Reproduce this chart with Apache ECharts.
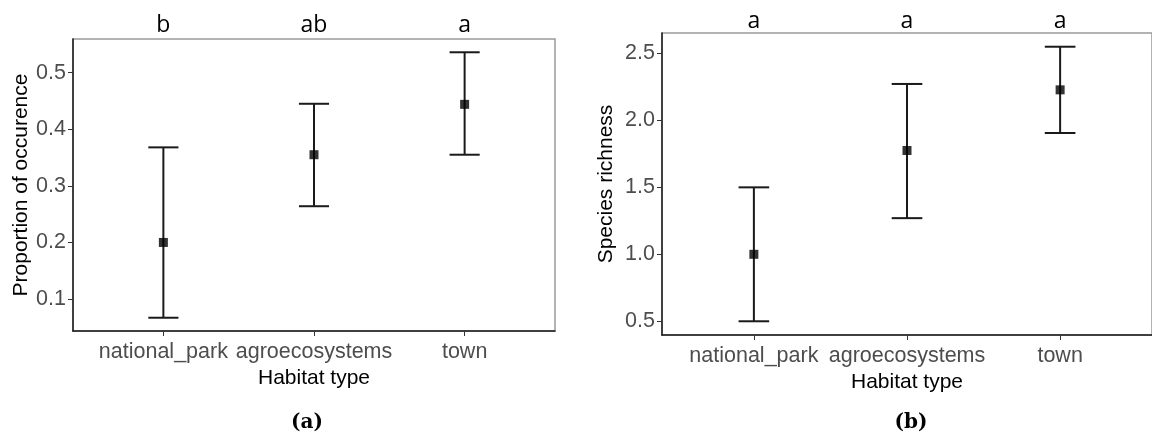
<!DOCTYPE html>
<html>
<head>
<meta charset="utf-8">
<script src="https://cdn.jsdelivr.net/npm/echarts@6/dist/echarts.min.js"></script>
<style>
html,body{margin:0;padding:0;background:#fff;}
#chart{width:1152px;height:445px;}
</style>
</head>
<body>
<div id="chart"></div>
<script>
// ---- data ----
const categories = ['national_park', 'agroecosystems', 'town'];
const occMean = [0.200, 0.355, 0.444];
const occLow  = [0.067, 0.264, 0.355];
const occHigh = [0.368, 0.445, 0.536];
const occLetters = ['b', 'ab', 'a'];
const richMean = [1.00, 1.775, 2.228];
const richLow  = [0.50, 1.270, 1.906];
const richHigh = [1.50, 2.272, 2.550];
const richLetters = ['a', 'a', 'a'];
const occTicks = [0.1, 0.2, 0.3, 0.4, 0.5];
const richTicks = [0.5, 1.0, 1.5, 2.0, 2.5];
const catPositions = [1, 2, 3];

// ---- helpers ----
function expand(lo, hi) { const r = hi - lo; return [lo - 0.05 * r, hi + 0.05 * r]; }
const occRange = expand(Math.min(...occLow), Math.max(...occHigh));
const richRange = expand(Math.min(...richLow), Math.max(...richHigh));
const xRange = [1 - 0.6, categories.length + 0.6];

const tickFont = 'Liberation Sans, Arial, sans-serif';
const tickColor = '#4d4d4d';

function bottomX(gridIndex) {
  return {
    type: 'value', gridIndex, position: 'bottom', min: xRange[0], max: xRange[1],
    name: 'Habitat type', nameLocation: 'middle', nameGap: 34,
    nameTextStyle: { fontFamily: tickFont, fontSize: 21, color: '#000' },
    axisLine: { show: true, onZero: false, lineStyle: { color: '#1a1a1a', width: 1.5 } },
    axisTick: { show: true, length: 5, customValues: catPositions, lineStyle: { color: '#333', width: 1 } },
    axisLabel: { customValues: catPositions, margin: 10, fontFamily: tickFont, fontSize: 21.5, color: tickColor,
      formatter: v => categories[Math.round(v) - 1] },
    splitLine: { show: false }
  };
}
function topX(gridIndex, letters, margin) {
  return {
    type: 'value', gridIndex, position: 'top', min: xRange[0], max: xRange[1],
    axisLine: { show: false }, axisTick: { show: false }, splitLine: { show: false },
    axisLabel: { customValues: catPositions, margin, fontFamily: 'Open Sans, sans-serif', fontSize: 23, color: '#000',
      formatter: v => letters[Math.round(v) - 1] }
  };
}
function leftY(gridIndex, range, ticks, name, gap) {
  return {
    type: 'value', gridIndex, min: range[0], max: range[1],
    name, nameLocation: 'middle', nameGap: gap, nameRotate: 90,
    nameTextStyle: { fontFamily: tickFont, fontSize: 21, color: '#000' },
    axisLine: { show: true, onZero: false, lineStyle: { color: '#1a1a1a', width: 1.5 } },
    axisTick: { show: true, length: 5, customValues: ticks, lineStyle: { color: '#333', width: 1 } },
    axisLabel: { customValues: ticks, margin: 7, fontFamily: tickFont, fontSize: 21.5, color: tickColor,
      formatter: v => v.toFixed(1) },
    splitLine: { show: false }
  };
}
function errorSeries(xIdx, yIdx, low, high) {
  return {
    type: 'custom', xAxisIndex: xIdx, yAxisIndex: yIdx, z: 2,
    data: catPositions.map((p, i) => [p, low[i], high[i]]),
    renderItem: (params, api) => {
      const x = api.value(0), lo = api.value(1), hi = api.value(2);
      const pLo = api.coord([x, lo]), pHi = api.coord([x, hi]);
      const xl = api.coord([x - 0.1, lo])[0], xr = api.coord([x + 0.1, lo])[0];
      const style = { stroke: '#1a1a1a', lineWidth: 2 };
      return { type: 'group', children: [
        { type: 'line', shape: { x1: pLo[0], y1: pLo[1], x2: pHi[0], y2: pHi[1] }, style },
        { type: 'line', shape: { x1: xl, y1: pHi[1], x2: xr, y2: pHi[1] }, style },
        { type: 'line', shape: { x1: xl, y1: pLo[1], x2: xr, y2: pLo[1] }, style }
      ]};
    }
  };
}
function meanSeries(xIdx, yIdx, mean) {
  return {
    type: 'scatter', xAxisIndex: xIdx, yAxisIndex: yIdx, z: 3,
    symbol: 'rect', symbolSize: 9, itemStyle: { color: '#000' },
    data: catPositions.map((p, i) => [p, mean[i]])
  };
}

const captionRich = {
  p: { fontFamily: 'DejaVu Serif, Liberation Serif, serif', fontSize: 20, color: '#000' },
  b: { fontFamily: 'DejaVu Serif, Liberation Serif, serif', fontSize: 20, fontWeight: 'bold', color: '#000' }
};

const option = {
  animation: false,
  backgroundColor: '#fff',
  title: [
    { text: '{p|(}{b|a}{p|)}', left: 302, top: 408, textAlign: 'center', textStyle: { rich: captionRich } },
    { text: '{p|(}{b|b}{p|)}', left: 906, top: 408, textAlign: 'center', textStyle: { rich: captionRich } }
  ],
  grid: [
    { left: 73, top: 39, width: 482, height: 292, show: true, borderColor: '#999', borderWidth: 1.5, backgroundColor: 'transparent' },
    { left: 662, top: 33, width: 498, height: 302, show: true, borderColor: '#999', borderWidth: 1.5, backgroundColor: 'transparent' }
  ],
  xAxis: [bottomX(0), topX(0, occLetters, 2), bottomX(1), topX(1, richLetters, 0)],
  yAxis: [
    leftY(0, occRange, occTicks, 'Proportion of occurence', 41),
    leftY(1, richRange, richTicks, 'Species richness', 45)
  ],
  series: [
    errorSeries(0, 0, occLow, occHigh),
    meanSeries(0, 0, occMean),
    errorSeries(2, 1, richLow, richHigh),
    meanSeries(2, 1, richMean)
  ]
};

const chart = echarts.init(document.getElementById('chart'), null, { renderer: 'canvas' });
chart.setOption(option);
</script>
</body>
</html>
